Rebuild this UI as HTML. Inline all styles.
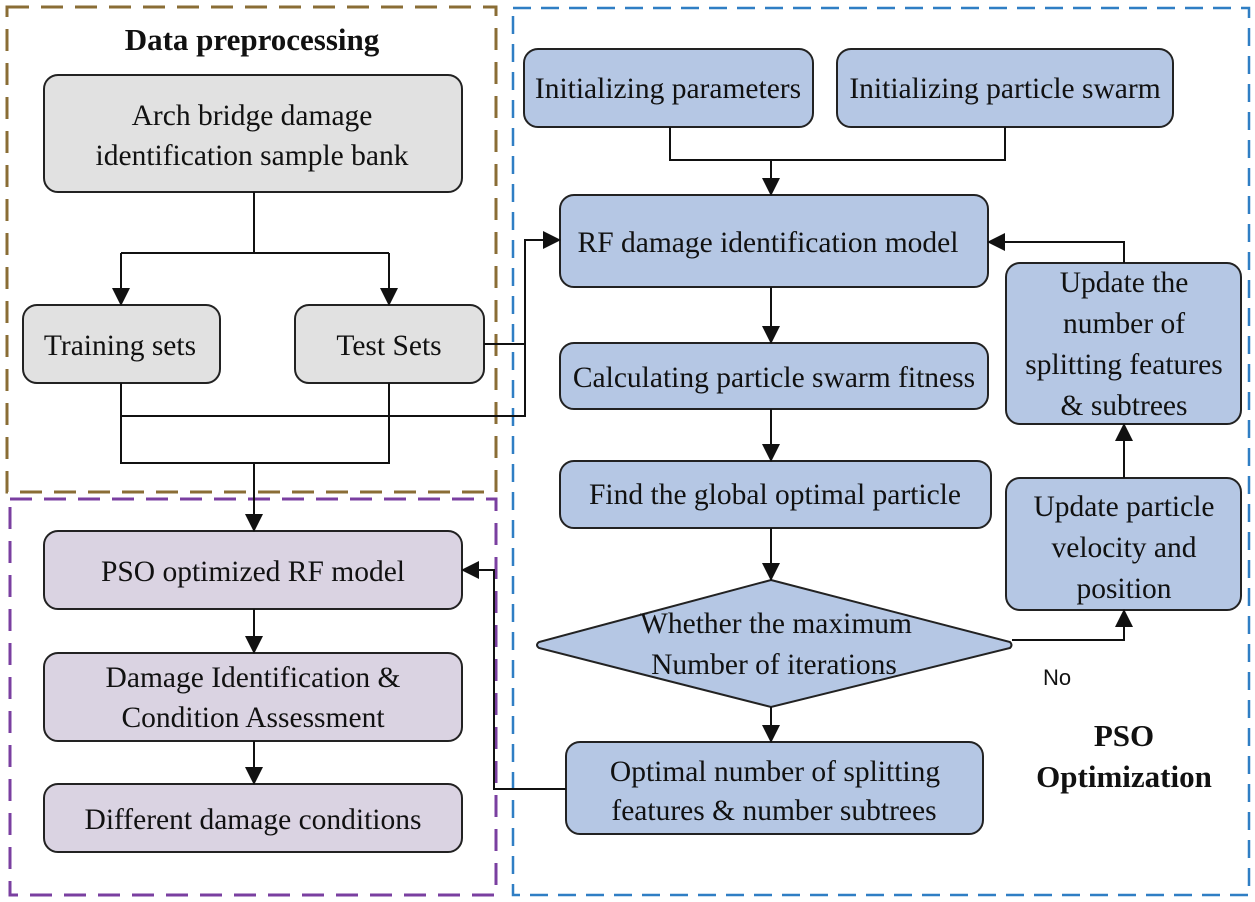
<!DOCTYPE html>
<html><head><meta charset="utf-8"><style>
html,body{margin:0;padding:0;background:#fff}
svg{display:block}
text{font-family:"Liberation Serif",serif;font-size:29.5px;fill:#111;text-anchor:middle}
.b{font-weight:bold;font-size:31px}
</style></head><body>
<svg width="1255" height="902" viewBox="0 0 1255 902" xmlns="http://www.w3.org/2000/svg">
<defs>
<marker id="A" markerWidth="18" markerHeight="18" refX="17" refY="9" orient="auto" markerUnits="userSpaceOnUse">
<path d="M0,0 L18,9 L0,18 Z" fill="#111"/>
</marker>
</defs>
<rect x="7" y="7" width="489" height="485" fill="none" stroke="#8a6d35" stroke-width="3" stroke-dasharray="22,12"/>
<rect x="513" y="8" width="736" height="887" fill="none" stroke="#2f7ec4" stroke-width="2.5" stroke-dasharray="18,10"/>
<rect x="10" y="499" width="486" height="396" fill="none" stroke="#7a3fa0" stroke-width="3" stroke-dasharray="22,12"/>

<g stroke="#222" stroke-width="2">
<rect x="44" y="75" width="418" height="117" rx="14" fill="#e1e1e1"/>
<rect x="23" y="305" width="197" height="78" rx="14" fill="#e1e1e1"/>
<rect x="295" y="305" width="189" height="78" rx="14" fill="#e1e1e1"/>
<rect x="44" y="531" width="418" height="78" rx="14" fill="#dad3e2"/>
<rect x="44" y="653" width="418" height="88" rx="14" fill="#dad3e2"/>
<rect x="44" y="784" width="418" height="68" rx="14" fill="#dad3e2"/>
<g fill="#b5c7e4">
<rect x="524" y="49" width="289" height="78" rx="14"/>
<rect x="837" y="49" width="336" height="78" rx="14"/>
<rect x="560" y="195" width="428" height="92" rx="14"/>
<rect x="560" y="343" width="428" height="66" rx="14"/>
<rect x="560" y="461" width="431" height="67" rx="14"/>
<path d="M771,580 L1010,642 Q1013,645 1010,648 L771,707 L539,648 Q535,645 539,642 Z"/>
<rect x="566" y="742" width="417" height="92" rx="14"/>
<rect x="1006" y="263" width="235" height="161" rx="14"/>
<rect x="1006" y="478" width="235" height="132" rx="14"/>
</g>
</g>

<g stroke="#111" stroke-width="2" fill="none">
<path d="M254,192 V253"/>
<path d="M121,253 H389"/>
<path d="M121,253 V305" marker-end="url(#A)"/>
<path d="M389,253 V305" marker-end="url(#A)"/>
<path d="M121,383 V463 H389 V383"/>
<path d="M121,416 H525 V240 H560" marker-end="url(#A)"/>
<path d="M484,344 H525"/>
<path d="M254,463 V531" marker-end="url(#A)"/>
<path d="M254,609 V653" marker-end="url(#A)"/>
<path d="M254,741 V784" marker-end="url(#A)"/>
<path d="M670,127 V160 H1005 V127"/>
<path d="M771,160 V195" marker-end="url(#A)"/>
<path d="M771,287 V343" marker-end="url(#A)"/>
<path d="M771,409 V461" marker-end="url(#A)"/>
<path d="M771,528 V580" marker-end="url(#A)"/>
<path d="M771,707 V742" marker-end="url(#A)"/>
<path d="M1012,640 H1124 V610" marker-end="url(#A)"/>
<path d="M1124,478 V424" marker-end="url(#A)"/>
<path d="M1124,263 V242 H988" marker-end="url(#A)"/>
<path d="M566,789 H494 V570 H462" marker-end="url(#A)"/>
</g>

<text class="b" x="252" y="50">Data preprocessing</text>
<text x="252" y="125">Arch bridge damage</text>
<text x="252" y="165">identification sample bank</text>
<text x="120" y="355">Training sets</text>
<text x="389" y="355">Test Sets</text>
<text x="253" y="581">PSO optimized RF model</text>
<text x="253" y="687">Damage Identification &amp;</text>
<text x="253" y="727">Condition Assessment</text>
<text x="253" y="829">Different damage conditions</text>
<text x="668" y="98">Initializing parameters</text>
<text x="1005" y="98">Initializing particle swarm</text>
<text x="768" y="252">RF damage identification model</text>
<text x="774" y="387">Calculating particle swarm fitness</text>
<text x="775" y="504">Find the global optimal particle</text>
<text x="776" y="633">Whether the maximum</text>
<text x="774" y="674">Number of iterations</text>
<text x="775" y="781">Optimal number of splitting</text>
<text x="774" y="820">features &amp; number subtrees</text>
<text x="1124" y="292">Update the</text>
<text x="1124" y="333">number of</text>
<text x="1124" y="374">splitting features</text>
<text x="1124" y="415">&amp; subtrees</text>
<text x="1124" y="516">Update particle</text>
<text x="1124" y="557">velocity and</text>
<text x="1124" y="598">position</text>
<text x="1057" y="685" style="font-family:'Liberation Sans',sans-serif;font-size:22px">No</text>
<text class="b" x="1124" y="746">PSO</text>
<text class="b" x="1124" y="787">Optimization</text>
</svg>
</body></html>
